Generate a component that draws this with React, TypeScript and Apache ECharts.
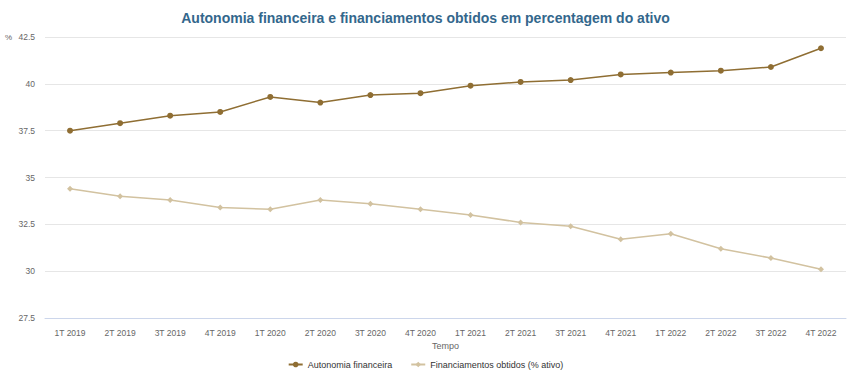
import React, { useEffect, useRef } from "react";
import * as echarts from "echarts";

const categories = [
  "1T 2019", "2T 2019", "3T 2019", "4T 2019",
  "1T 2020", "2T 2020", "3T 2020", "4T 2020",
  "1T 2021", "2T 2021", "3T 2021", "4T 2021",
  "1T 2022", "2T 2022", "3T 2022", "4T 2022",
];
const autonomia = [37.5, 37.9, 38.3, 38.5, 39.3, 39.0, 39.4, 39.5, 39.9, 40.1, 40.2, 40.5, 40.6, 40.7, 40.9, 41.9];
const financiamentos = [34.4, 34.0, 33.8, 33.4, 33.3, 33.8, 33.6, 33.3, 33.0, 32.6, 32.4, 31.7, 32.0, 31.2, 30.7, 30.1];
const seriesNames = ["Autonomia financeira", "Financiamentos obtidos (% ativo)"];
const titleText = "Autonomia financeira e financiamentos obtidos em percentagem do ativo";

export default function App() {
  const ref = useRef<HTMLDivElement>(null);
  useEffect(() => {
    if (!ref.current) return;
    const chart = echarts.init(ref.current, undefined, { renderer: "svg" });
    const font = "Arial, 'Liberation Sans', sans-serif";
    chart.setOption({
      animation: false,
      textStyle: { fontFamily: font },
      title: {
        text: titleText,
        left: "center",
        top: 6,
        textStyle: { color: "#33678c", fontSize: 14, fontWeight: "bold", fontFamily: font },
      },
      grid: { left: 45, right: 5, top: 37, bottom: 61 },
      legend: {
        bottom: 5,
        left: "center",
        itemWidth: 14,
        itemHeight: 7,
        itemGap: 18,
        textStyle: { color: "#333", fontSize: 9, fontFamily: font },
        data: seriesNames,
      },
      xAxis: {
        type: "category",
        data: categories,
        boundaryGap: true,
        name: "Tempo",
        nameLocation: "middle",
        nameGap: 22,
        nameTextStyle: { color: "#666", fontSize: 9 },
        axisLine: { lineStyle: { color: "#ccd6eb" } },
        axisTick: { show: false },
        axisLabel: { color: "#666", fontSize: 8.5, margin: 10 },
      },
      yAxis: {
        type: "value",
        min: 27.5,
        max: 42.5,
        interval: 2.5,
        name: "%",
        nameLocation: "end",
        nameGap: 0,
        nameTextStyle: { color: "#666", fontSize: 8, align: "left", verticalAlign: "middle", padding: [0, 0, 0, -40] },
        axisLine: { show: false },
        axisTick: { show: false },
        axisLabel: { color: "#666", fontSize: 8.5, margin: 10 },
        splitLine: { lineStyle: { color: "#e6e6e6" } },
      },
      series: [
        {
          name: seriesNames[0],
          type: "line",
          data: autonomia,
          symbol: "circle",
          symbolSize: 6,
          itemStyle: { color: "#8f6e33" },
          lineStyle: { color: "#8f6e33", width: 1.5 },
        },
        {
          name: seriesNames[1],
          type: "line",
          data: financiamentos,
          symbol: "diamond",
          symbolSize: 6,
          itemStyle: { color: "#d2c2a0" },
          lineStyle: { color: "#d2c2a0", width: 1.5 },
        },
      ],
    });
    return () => chart.dispose();
  }, []);
  return <div ref={ref} style={{ width: 851, height: 379, position: "absolute", left: 0, top: 0, background: "#fff" }} />;
}
